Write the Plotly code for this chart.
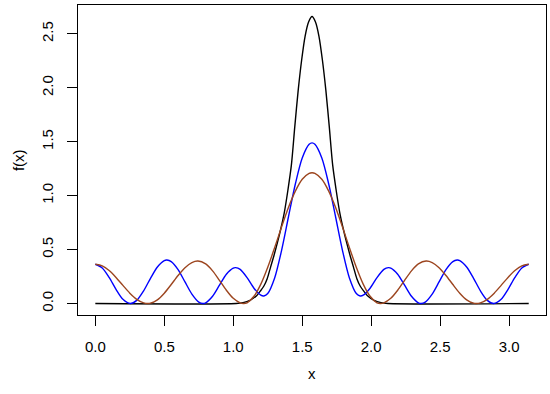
import plotly.graph_objects as go

# ---- data ----
black_x = [0.0, 1.021, 1.071, 1.121, 1.171, 1.196, 1.221, 1.246, 1.271, 1.296, 1.321, 1.346, 1.371,
           1.396, 1.421, 1.446, 1.471, 1.496, 1.521, 1.546, 1.571,
           1.596, 1.621, 1.646, 1.671, 1.696, 1.721, 1.746, 1.771, 1.796, 1.821, 1.846, 1.871,
           1.896, 1.921, 1.946, 1.971, 2.021, 2.071, 2.121, 3.142]
black_y = [0.0, 0.0, 0.008, 0.03, 0.075, 0.115, 0.16, 0.23, 0.34, 0.45, 0.57, 0.70, 0.85,
           1.05, 1.28, 1.64, 1.98, 2.26, 2.48, 2.61, 2.661,
           2.61, 2.48, 2.26, 1.98, 1.64, 1.28, 1.05, 0.85, 0.70, 0.57, 0.45, 0.34,
           0.23, 0.16, 0.115, 0.075, 0.03, 0.008, 0.0, 0.0]

blue_x = [0.0, 0.05, 0.10, 0.15, 0.20, 0.254, 0.30, 0.35, 0.40, 0.45, 0.50, 0.519, 0.55, 0.60,
          0.65, 0.70, 0.75, 0.78, 0.80, 0.85, 0.90, 0.95, 1.00, 1.017, 1.05, 1.10, 1.15, 1.20,
          1.222, 1.25, 1.30, 1.35, 1.40, 1.45, 1.50, 1.55, 1.571,
          1.592, 1.642, 1.692, 1.742, 1.792, 1.842, 1.892, 1.920, 1.942, 1.992, 2.042, 2.092,
          2.125, 2.142, 2.192, 2.242, 2.292, 2.342, 2.362, 2.392, 2.442, 2.492, 2.542, 2.592,
          2.623, 2.642, 2.692, 2.742, 2.792, 2.842, 2.888, 2.942, 2.992, 3.042, 3.092, 3.142]
blue_y = [0.364, 0.330, 0.242, 0.131, 0.039, 0.0, 0.029, 0.117, 0.234, 0.339, 0.398, 0.403, 0.389, 0.315,
          0.200, 0.087, 0.013, 0.0, 0.006, 0.067, 0.170, 0.272, 0.329, 0.333, 0.316, 0.240, 0.142, 0.077,
          0.070, 0.093, 0.237, 0.491, 0.802, 1.108, 1.349, 1.476, 1.489,
          1.476, 1.349, 1.108, 0.802, 0.491, 0.237, 0.093, 0.070, 0.077, 0.142, 0.240, 0.316,
          0.333, 0.329, 0.272, 0.170, 0.067, 0.006, 0.0, 0.013, 0.087, 0.200, 0.315, 0.389,
          0.403, 0.398, 0.339, 0.234, 0.117, 0.029, 0.0, 0.039, 0.131, 0.242, 0.330, 0.364]

brown_x = [0.0, 0.05, 0.10, 0.15, 0.20, 0.25, 0.30, 0.35, 0.381, 0.40, 0.45, 0.50, 0.55, 0.60,
           0.65, 0.70, 0.744, 0.80, 0.85, 0.90, 0.95, 1.00, 1.05, 1.075, 1.10, 1.15, 1.20, 1.25,
           1.30, 1.35, 1.40, 1.45, 1.50, 1.55, 1.571,
           1.592, 1.642, 1.692, 1.742, 1.792, 1.842, 1.892, 1.942, 1.992, 2.042, 2.067, 2.092,
           2.142, 2.192, 2.242, 2.292, 2.342, 2.398, 2.442, 2.492, 2.542, 2.592, 2.642, 2.692,
           2.742, 2.761, 2.792, 2.842, 2.892, 2.942, 2.992, 3.042, 3.092, 3.142]
brown_y = [0.364, 0.349, 0.306, 0.242, 0.168, 0.096, 0.039, 0.006, 0.0, 0.003, 0.034, 0.096, 0.176, 0.260,
           0.332, 0.380, 0.394, 0.367, 0.303, 0.215, 0.123, 0.048, 0.006, 0.0, 0.007, 0.067, 0.180, 0.336,
           0.518, 0.709, 0.890, 1.042, 1.152, 1.207, 1.212,
           1.207, 1.152, 1.042, 0.890, 0.709, 0.518, 0.336, 0.180, 0.067, 0.007, 0.0, 0.006,
           0.048, 0.123, 0.215, 0.303, 0.367, 0.394, 0.380, 0.332, 0.260, 0.176, 0.096, 0.034,
           0.003, 0.0, 0.006, 0.039, 0.096, 0.168, 0.242, 0.306, 0.349, 0.364]

x_ticks = [0.0, 0.5, 1.0, 1.5, 2.0, 2.5, 3.0]
x_tick_labels = ["0.0", "0.5", "1.0", "1.5", "2.0", "2.5", "3.0"]
y_ticks = [0.0, 0.5, 1.0, 1.5, 2.0, 2.5]
y_tick_labels = ["0.0", "0.5", "1.0", "1.5", "2.0", "2.5"]

FONT = "Liberation Sans, Arial, sans-serif"

fig = go.Figure()
fig.add_trace(go.Scatter(x=black_x, y=black_y, mode="lines",
                         line=dict(color="black", width=1.4, shape="spline", smoothing=0.8)))
fig.add_trace(go.Scatter(x=blue_x, y=blue_y, mode="lines",
                         line=dict(color="#0000FF", width=1.4, shape="spline", smoothing=0.8)))
fig.add_trace(go.Scatter(x=brown_x, y=brown_y, mode="lines",
                         line=dict(color="#9C451F", width=1.4, shape="spline", smoothing=0.8)))

xmax = 3.1416
ymax = 2.661
fig.update_layout(
    width=550, height=394,
    margin=dict(l=78, r=4, t=5, b=79, autoexpand=False),
    paper_bgcolor="white", plot_bgcolor="white",
    showlegend=False,
    font=dict(family=FONT, size=15, color="black"),
    xaxis=dict(range=[-0.04 * xmax, 1.04 * xmax], showgrid=False, zeroline=False,
               showline=True, mirror=True, linecolor="black", linewidth=1,
               ticks="outside", ticklen=10, tickwidth=1, tickcolor="black",
               tickvals=x_ticks, ticktext=x_tick_labels, ticklabelstandoff=8,
               tickfont=dict(family=FONT, size=15, color="black")),
    yaxis=dict(range=[-0.04 * ymax, 1.04 * ymax], showgrid=False, zeroline=False,
               showline=True, mirror=True, linecolor="black", linewidth=1,
               ticks="outside", ticklen=10, tickwidth=1, tickcolor="black",
               tickvals=y_ticks, ticktext=y_tick_labels, tickangle=-90, ticklabelstandoff=8,
               tickfont=dict(family=FONT, size=15, color="black")),
    annotations=[
        dict(text="x", xref="paper", yref="paper", x=0.5, y=-0.19, yanchor="middle",
             xanchor="center", showarrow=False, font=dict(family=FONT, size=15)),
        dict(text="f(x)", xref="paper", yref="paper", x=-0.128, y=0.5, xanchor="center",
             yanchor="middle", textangle=-90, showarrow=False, font=dict(family=FONT, size=15)),
    ],
)

fig.write_html("out.html", config={"displayModeBar": False},
               post_script="document.body.style.margin='0';")
